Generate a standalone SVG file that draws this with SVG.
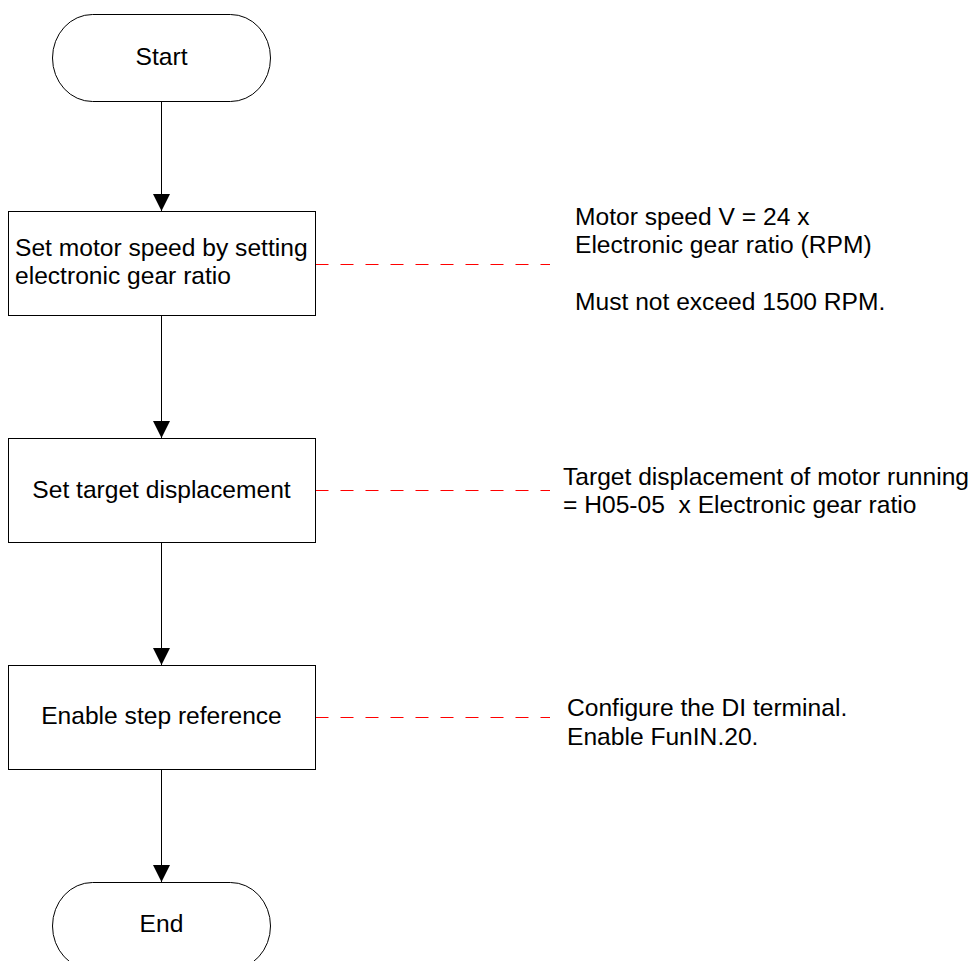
<svg xmlns="http://www.w3.org/2000/svg" width="976" height="961" viewBox="0 0 976 961">
<defs>
<style>
.shape{fill:#fff;stroke:#000;stroke-width:1}
.t{font-family:"Liberation Sans",Arial,sans-serif;font-size:24.6px;fill:#000}
.c{text-anchor:middle}
.edge{stroke:#000;stroke-width:1;fill:none}
.note{stroke:#ff0000;stroke-width:1;stroke-dasharray:13 12;fill:none}
</style>
<marker id="arr" markerWidth="17" markerHeight="17" refX="17" refY="8.5" orient="auto" markerUnits="userSpaceOnUse">
<path d="M0,0 L17,8.5 L0,17 Z" fill="#000"/>
</marker>
</defs>
<rect width="976" height="961" fill="#fff"/>
<g id="connectors">
<line class="edge" x1="161.5" y1="101" x2="161.5" y2="211" marker-end="url(#arr)"/>
<line class="edge" x1="161.5" y1="315" x2="161.5" y2="438" marker-end="url(#arr)"/>
<line class="edge" x1="161.5" y1="542" x2="161.5" y2="665" marker-end="url(#arr)"/>
<line class="edge" x1="161.5" y1="769" x2="161.5" y2="882" marker-end="url(#arr)"/>
<line class="note" x1="315.5" y1="264.5" x2="550" y2="264.5"/>
<line class="note" x1="315.5" y1="490.5" x2="550" y2="490.5"/>
<line class="note" x1="315.5" y1="717.5" x2="550" y2="717.5"/>
</g>
<g id="start">
<rect class="shape" x="52.5" y="14.5" width="218" height="87" rx="40" ry="43.5"/>
<text class="t c" x="161.5" y="65">Start</text>
</g>
<g id="step1">
<rect class="shape" x="8.5" y="211.5" width="307" height="104"/>
<text class="t" x="15" y="256">Set motor speed by setting</text>
<text class="t" x="15" y="284">electronic gear ratio</text>
</g>
<g id="step2">
<rect class="shape" x="8.5" y="438.5" width="307" height="104"/>
<text class="t c" x="161.5" y="498">Set target displacement</text>
</g>
<g id="step3">
<rect class="shape" x="8.5" y="665.5" width="307" height="104"/>
<text class="t c" x="161.5" y="724">Enable step reference</text>
</g>
<g id="end">
<rect class="shape" x="52.5" y="882.5" width="218" height="87" rx="40" ry="43.5"/>
<text class="t c" x="161.5" y="932">End</text>
</g>
<g id="note1">
<text class="t" x="575" y="225">Motor speed V = 24 x</text>
<text class="t" x="575" y="253">Electronic gear ratio (RPM)</text>
<text class="t" x="575" y="310">Must not exceed 1500 RPM.</text>
</g>
<g id="note2">
<text class="t" x="563" y="485">Target displacement of motor running</text>
<text class="t" x="563" y="513" xml:space="preserve">= H05-05  x Electronic gear ratio</text>
</g>
<g id="note3">
<text class="t" x="567" y="716">Configure the DI terminal.</text>
<text class="t" x="567" y="745">Enable FunIN.20.</text>
</g>
</svg>
